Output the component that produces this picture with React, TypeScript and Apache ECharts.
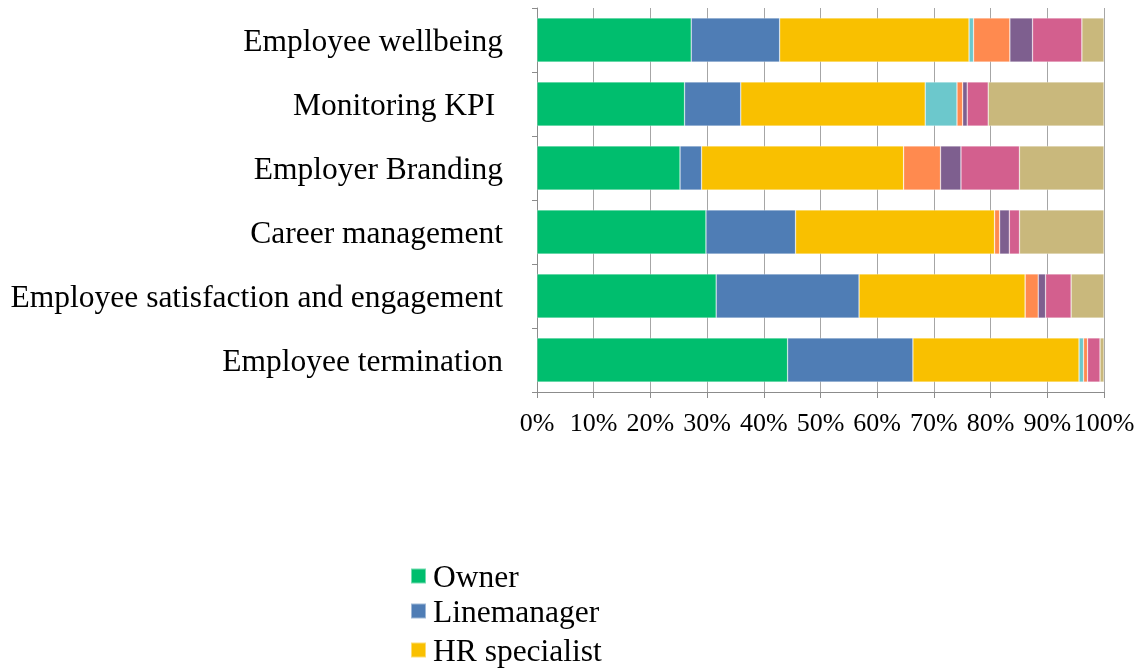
import React, { useEffect, useRef } from "react";
import * as echarts from "echarts";

const categories = [
  "Employee wellbeing",
  "Monitoring KPI ",
  "Employer Branding",
  "Career management",
  "Employee satisfaction and engagement",
  "Employee termination",
];

const seriesNames = ["Owner", "Linemanager", "HR specialist", "Series 4", "Series 5", "Series 6", "Series 7", "Series 8"];
const legendNames = ["Owner", "Linemanager", "HR specialist"];
const colors = ["#00BE6E", "#4F7DB5", "#F9C000", "#6CC8CC", "#FF8A4F", "#7E5F8F", "#D35F8E", "#C9B87C"];

// values per series, in category order (top to bottom)
const owner = [27.2, 26.0, 25.2, 29.8, 31.6, 44.2];
const linemanager = [15.6, 9.9, 3.8, 15.8, 25.2, 22.1];
const hrSpecialist = [33.4, 32.5, 35.6, 35.1, 29.3, 29.3];
const series4 = [0.8, 5.6, 0, 0, 0, 0.8];
const series5 = [6.4, 1.0, 6.5, 0.9, 2.3, 0.7];
const series6 = [4.0, 0.8, 3.6, 1.7, 1.3, 0];
const series7 = [8.7, 3.7, 10.3, 1.8, 4.5, 2.2];
const series8 = [3.9, 20.4, 14.9, 14.9, 5.8, 0.7];

const xTicks = [0, 10, 20, 30, 40, 50, 60, 70, 80, 90, 100];

const allSeries = [owner, linemanager, hrSpecialist, series4, series5, series6, series7, series8];

export default function App() {
  const ref = useRef<HTMLDivElement>(null);
  useEffect(() => {
    if (!ref.current) return;
    const chart = echarts.init(ref.current, null, { renderer: "svg" });
    const totals = categories.map((_, i) => allSeries.reduce((s, arr) => s + arr[i], 0));
    const font = '"Liberation Serif", "Times New Roman", serif';
    const legendTops = [559, 594, 633];
    chart.setOption({
      animation: false,
      textStyle: { fontFamily: font },
      grid: { left: 537, right: 38, top: 8, bottom: 276, containLabel: false },
      legend: legendNames.map((name, i) => ({
        data: [name],
        orient: "vertical",
        left: 410,
        top: legendTops[i],
        padding: 0,
        itemWidth: 15,
        itemHeight: 15,
        icon: "rect",
        textStyle: { fontFamily: font, fontSize: 31.5, color: "#000", lineHeight: 34, padding: [0, 0, 0, 2] },
      })),
      xAxis: {
        type: "value",
        min: xTicks[0],
        max: xTicks[xTicks.length - 1],
        interval: 10,
        axisLine: { show: true, lineStyle: { color: "#8c8c8c", width: 1 } },
        axisTick: { show: true, length: 6, lineStyle: { color: "#8c8c8c" } },
        splitLine: { show: true, lineStyle: { color: "#a6a6a6", width: 1 } },
        axisLabel: { formatter: "{value}%", fontFamily: font, fontSize: 26, color: "#000", margin: 17 },
      },
      yAxis: {
        type: "category",
        data: categories,
        inverse: true,
        axisLine: { show: true, lineStyle: { color: "#8c8c8c", width: 1 } },
        axisTick: { show: true, length: 5, lineStyle: { color: "#8c8c8c" } },
        axisLabel: { fontFamily: font, fontSize: 31.5, color: "#000", margin: 34 },
      },
      series: allSeries.map((arr, si) => ({
        name: seriesNames[si],
        type: "bar",
        stack: "total",
        barCategoryGap: "31%",
        itemStyle: { color: colors[si], borderColor: "rgba(255,255,255,0.45)", borderWidth: 0.6 },
        data: arr.map((v, i) => (v / totals[i]) * 100),
      })),
    });
    return () => chart.dispose();
  }, []);
  return <div ref={ref} style={{ position: "fixed", left: 0, top: 0, width: 1142, height: 668 }} />;
}
